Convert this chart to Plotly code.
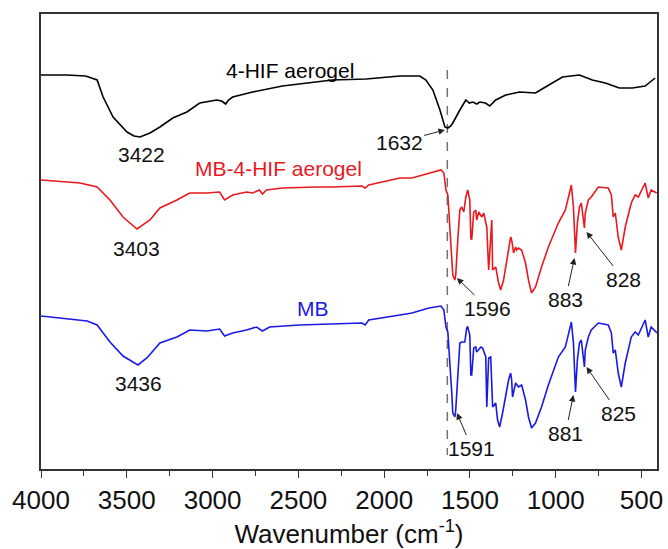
import plotly.graph_objects as go

# Wavenumber (cm^-1) and offset transmittance (a.u.)
wn_hif = [4000, 3850, 3740, 3673, 3638, 3580, 3499, 3458, 3423, 3365, 3307, 3232, 3150, 3075, 2976, 2947, 2924,
          2907, 2883, 2767, 2593, 2396, 2302, 2105, 1908, 1792, 1757, 1716, 1675, 1646, 1629, 1612, 1600, 1559,
          1524, 1504, 1484, 1460, 1443, 1410, 1385, 1350, 1292, 1211, 1118, 1060, 961, 862, 787, 711, 630, 554, 479, 421]
t_hif = [394, 394, 393, 389, 372, 352, 337, 333, 332, 336, 342, 351, 357, 366, 369, 368, 365,
         369, 372, 377, 383, 387, 389, 390, 393, 393, 389, 379, 359, 342, 341, 343, 346, 359,
         369, 366, 367, 365, 367, 366, 363, 369, 374, 377, 376, 382, 392, 394, 389, 386, 381, 381, 383, 391]

wn_mbhif = [4000, 3772, 3673, 3598, 3522, 3441, 3365, 3307, 3208, 3133, 3034, 2959, 2930, 2883, 2802, 2767, 2727,
            2709, 2686, 2593, 2396, 2302, 2130, 2111, 2090, 1908, 1838, 1740, 1669, 1652, 1640, 1629, 1617, 1606,
            1600, 1588, 1583, 1571, 1559, 1548, 1536, 1524, 1513, 1501, 1495, 1490, 1478, 1466, 1461, 1449, 1431,
            1420, 1402, 1391, 1379, 1373, 1368, 1350, 1333, 1321, 1304, 1275, 1263, 1257, 1246, 1234, 1228, 1217,
            1199, 1176, 1159, 1141, 1118, 1083, 1043, 985, 944, 909, 897, 885, 874, 862, 851, 833, 828, 810, 793,
            752, 694, 676, 665, 653, 636, 618, 595, 560, 537, 519, 479, 461, 444, 412]
t_mbhif = [289, 286, 282, 269, 252, 240, 249, 261, 269, 276, 276, 277, 269, 274, 277, 276, 279,
           275, 279, 281, 282, 282, 283, 281, 284, 291, 291, 296, 299, 296, 279, 274, 242, 212,
           194, 189, 194, 229, 259, 262, 257, 272, 279, 269, 231, 229, 257, 259, 249, 257, 252,
           256, 242, 199, 239, 249, 199, 202, 186, 179, 189, 222, 232, 229, 216, 222, 219, 221,
           219, 206, 189, 176, 182, 202, 222, 246, 259, 284, 262, 216, 246, 262, 266, 241, 256, 269, 272,
           282, 281, 274, 252, 256, 232, 219, 242, 266, 274, 272, 286, 271, 279, 276]

wn_mb = [4000, 3847, 3731, 3673, 3598, 3522, 3435, 3383, 3307, 3208, 3133, 3034, 2959, 2930, 2883, 2802, 2744,
         2709, 2668, 2494, 2302, 2130, 2111, 2090, 1908, 1838, 1740, 1669, 1652, 1640, 1629, 1617, 1606, 1600,
         1588, 1583, 1571, 1559, 1548, 1530, 1519, 1513, 1501, 1495, 1490, 1478, 1466, 1461, 1437, 1426, 1408,
         1402, 1391, 1379, 1368, 1350, 1339, 1327, 1310, 1275, 1263, 1257, 1252, 1234, 1217, 1199, 1176, 1159,
         1141, 1118, 1083, 1043, 985, 944, 909, 897, 885, 874, 862, 851, 833, 828, 810, 793, 752, 694, 676,
         665, 653, 636, 618, 595, 560, 537, 519, 479, 461, 444, 410]
t_mb = [153, 150, 148, 144, 127, 113, 104, 111, 126, 132, 139, 138, 140, 133, 136, 139, 142,
        138, 142, 144, 145, 146, 144, 149, 154, 156, 161, 163, 159, 142, 137, 109, 76, 56,
        52, 59, 96, 126, 127, 127, 141, 142, 134, 94, 94, 121, 122, 117, 122, 121, 112,
        62, 111, 112, 62, 66, 49, 42, 56, 89, 96, 89, 72, 86, 82, 84, 69, 52,
        41, 46, 62, 84, 112, 122, 147, 126, 77, 109, 126, 129, 102, 119, 132, 139, 146, 144, 136,
        116, 119, 96, 82, 106, 132, 137, 134, 149, 132, 142, 136]

# dashed reference line
ref_wn = 1632
ref_span = [399, 14]

# labels: (text, wavenumber, value, colour)
series_labels = [("4-HIF aerogel", 2546, 399, "#000000"),
                 ("MB-4-HIF aerogel", 2616, 301, "#e8191f"),
                 ("MB", 2413, 161, "#1a1ae6")]
peak_labels = [("3422", 3412, 315), ("3403", 3441, 221), ("3436", 3429, 86)]
# arrow labels: (text, head wn, head value, text wn, text value)
arrow_labels = [("1632", 1646, 339, 1913, 327),
                ("1596", 1576, 191, 1396, 161),
                ("883", 891, 211, 943, 170),
                ("828", 821, 237, 606, 190),
                ("1591", 1576, 56, 1489, 21),
                ("881", 897, 74, 943, 36),
                ("825", 821, 102, 635, 56)]

FONT = "Arial, Liberation Sans, sans-serif"

fig = go.Figure()
fig.add_trace(go.Scatter(x=[ref_wn, ref_wn], y=ref_span, mode="lines",
                         line=dict(color="#707070", width=1.5, dash="dash"), showlegend=False))
fig.add_trace(go.Scatter(x=wn_hif, y=t_hif, mode="lines", line=dict(color="#000000", width=1.6), showlegend=False))
fig.add_trace(go.Scatter(x=wn_mbhif, y=t_mbhif, mode="lines", line=dict(color="#e8191f", width=1.6), showlegend=False))
fig.add_trace(go.Scatter(x=wn_mb, y=t_mb, mode="lines", line=dict(color="#1a1ae6", width=1.6), showlegend=False))

for txt, x, y, c in series_labels:
    fig.add_annotation(x=x, y=y, text=txt, showarrow=False, font=dict(family=FONT, size=21, color=c))
for txt, x, y in peak_labels:
    fig.add_annotation(x=x, y=y, text=txt, showarrow=False, font=dict(family=FONT, size=21, color="#111111"))
for txt, hx, hy, tx, ty in arrow_labels:
    fig.add_annotation(x=hx, y=hy, ax=tx, ay=ty, axref="x", ayref="y", text=txt, showarrow=True,
                       arrowhead=2, arrowsize=1.3, arrowwidth=1, arrowcolor="#222222",
                       font=dict(family=FONT, size=21, color="#111111"))

fig.update_layout(
    width=668, height=549,
    margin=dict(l=41, r=9, t=14, b=80),
    paper_bgcolor="white", plot_bgcolor="white",
    font=dict(family=FONT, color="#111111"),
    xaxis=dict(range=[4000, 410], tickmode="linear", tick0=500, dtick=500, automargin=False,
               ticks="outside", ticklen=7, tickwidth=1.3, tickcolor="#333333",
               minor=dict(ticks="outside", ticklen=5, tickwidth=1.3, dtick=250, tick0=250, tickcolor="#333333"),
               showline=True, linecolor="#333333", linewidth=1.5, mirror=True,
               showgrid=False, zeroline=False,
               tickfont=dict(family=FONT, size=26, color="#111111"),
               title=dict(text="Wavenumber (cm<sup>-1</sup>)", font=dict(family=FONT, size=26, color="#111111"),
                          standoff=15)),
    yaxis=dict(range=[0, 455], showticklabels=False, ticks="", showgrid=False, zeroline=False,
               showline=True, linecolor="#333333", linewidth=1.5, mirror=True),
)

fig.write_html("out.html")
